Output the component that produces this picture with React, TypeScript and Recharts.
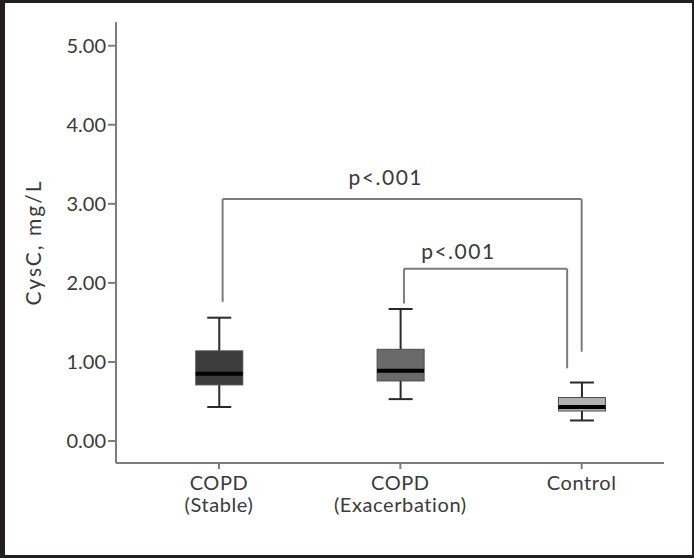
import {
  ComposedChart, Bar, XAxis, YAxis, ReferenceLine, Scatter,
} from 'recharts'

const groups = ['COPD|(Stable)', 'COPD|(Exacerbation)', 'Control']
const whiskerLow = [0.43, 0.53, 0.26]
const q1 = [0.71, 0.76, 0.38]
const median = [0.85, 0.89, 0.43]
const q3 = [1.14, 1.16, 0.55]
const whiskerHigh = [1.56, 1.67, 0.74]
const boxFill = ['#3c3c3c', '#6a6a6a', '#b2b2b2']

const yTicks = [0, 1, 2, 3, 4, 5]
const xTicks = [0, 1, 2]

// significance brackets: x positions of legs, bracket top, leg ends
const bracketLeft = [0.02, 1.02]
const bracketRight = [2.0, 1.92]
const bracketTop = [3.06, 2.18]
const legLeftEnd = [1.76, 1.74]
const legRightEnd = [1.13, 0.92]

const pLabels = ['p<.001', 'p<.001']
const pLabelX = [0.92, 1.32]
const pLabelY = [3.24, 2.3]

const FONT = 'Lato, "DejaVu Sans", sans-serif'
const TEXT = '#3a3a3a'
const AXIS = '#7c7c7c'
const BOX_W = 47
const CAP_W = 24

const boxData = groups.map((g, i) => ({
  x: i,
  name: g,
  lo: whiskerLow[i],
  q1: q1[i],
  med: median[i],
  q3: q3[i],
  hi: whiskerHigh[i],
  fill: boxFill[i],
}))

const labelData = pLabels.map((t, i) => ({ x: pLabelX[i], y: pLabelY[i], text: t }))

const BoxShape = (props: any) => {
  const { x, y, width, height, payload } = props
  const d = payload
  const unit = height / (d.q3 - d.q1)
  const py = (v: number) => y + (d.q3 - v) * unit
  const cx = x + width / 2
  const bx = cx - BOX_W / 2
  return (
    <g>
      <line x1={cx} x2={cx} y1={py(d.hi)} y2={y} stroke="#2a2a2a" strokeWidth={2} />
      <line x1={cx} x2={cx} y1={py(d.lo)} y2={y + height} stroke="#2a2a2a" strokeWidth={2} />
      <line x1={cx - CAP_W / 2} x2={cx + CAP_W / 2} y1={py(d.hi)} y2={py(d.hi)} stroke="#2a2a2a" strokeWidth={2} />
      <line x1={cx - CAP_W / 2} x2={cx + CAP_W / 2} y1={py(d.lo)} y2={py(d.lo)} stroke="#2a2a2a" strokeWidth={2} />
      <rect x={bx} y={y} width={BOX_W} height={height} fill={d.fill} stroke="#4a4a4a" strokeWidth={1} />
      <line x1={bx} x2={bx + BOX_W} y1={py(d.med)} y2={py(d.med)} stroke="#000" strokeWidth={4} />
    </g>
  )
}

const PLabel = (props: any) => {
  const { cx, cy, payload } = props
  return (
    <text x={cx} y={cy} textAnchor="middle" fontFamily={FONT} fontSize={21} letterSpacing={1.5} fill={TEXT}>
      {payload.text}
    </text>
  )
}

const XTick = (props: any) => {
  const { x, y, payload } = props
  const lines = groups[payload.value].split('|')
  return (
    <g>
      {lines.map((l, i) => (
        <text
          key={i}
          x={x}
          y={y + 19 + i * 22}
          textAnchor="middle"
          fontFamily={FONT}
          fontSize={20}
          letterSpacing={0.6}
          fill={TEXT}
        >
          {l}
        </text>
      ))}
    </g>
  )
}

export default function App() {
  return (
    <div style={{ position: 'absolute', left: 0, top: 0, width: 694, height: 558, background: '#fff' }}>
      <ComposedChart
        width={694}
        height={558}
        data={boxData}
        margin={{ top: 22, right: 30, left: 0, bottom: 0 }}
      >
        <XAxis
          type="number"
          dataKey="x"
          domain={[-0.568, 2.454]}
          ticks={xTicks}
          allowDataOverflow
          height={95}
          stroke={AXIS}
          strokeWidth={2}
          tickSize={6}
          tick={<XTick />}
        />
        <YAxis
          type="number"
          domain={[-0.278, 5.3]}
          ticks={yTicks}
          allowDataOverflow
          width={116}
          stroke={AXIS}
          strokeWidth={2}
          tickSize={8}
          tickFormatter={(v: number) => v.toFixed(2)}
          tick={{ fontFamily: FONT, fontSize: 20, fill: TEXT }}
          label={{
            value: 'CysC, mg/L',
            angle: -90,
            position: 'insideLeft',
            dx: 29,
            style: { fontFamily: FONT, fontSize: 21, letterSpacing: 2, fill: TEXT, textAnchor: 'middle' },
          }}
        />
        {bracketTop.map((t, i) => (
          <ReferenceLine
            key={'h' + i}
            segment={[{ x: bracketLeft[i], y: t }, { x: bracketRight[i], y: t }]}
            stroke={AXIS}
            strokeWidth={2}
          />
        ))}
        {bracketTop.map((t, i) => (
          <ReferenceLine
            key={'l' + i}
            segment={[{ x: bracketLeft[i], y: legLeftEnd[i] }, { x: bracketLeft[i], y: t }]}
            stroke={AXIS}
            strokeWidth={2}
          />
        ))}
        {bracketTop.map((t, i) => (
          <ReferenceLine
            key={'r' + i}
            segment={[{ x: bracketRight[i], y: legRightEnd[i] }, { x: bracketRight[i], y: t }]}
            stroke={AXIS}
            strokeWidth={2}
          />
        ))}
        <Bar
          dataKey={(d: any) => [d.q1, d.q3]}
          barSize={BOX_W}
          shape={<BoxShape />}
          isAnimationActive={false}
        />
        <Scatter
          data={labelData}
          dataKey="y"
          shape={<PLabel />}
          isAnimationActive={false}
        />
      </ComposedChart>
      <div
        style={{
          position: 'absolute', left: 0, top: 0, width: 694, height: 558, boxSizing: 'border-box',
          borderStyle: 'solid', borderColor: '#231f20',
          borderWidth: '3px 2px 3px 5px', pointerEvents: 'none',
        }}
      />
    </div>
  )
}
